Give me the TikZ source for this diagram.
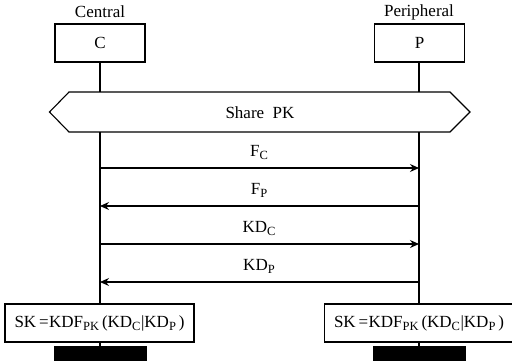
\documentclass[tikz,border=0pt]{standalone}
\usepackage{fontspec}
\setmainfont{Liberation Serif}
\usetikzlibrary{arrows.meta}
\tikzset{
  lbl/.style={inner sep=0pt, font=\fontsize{17}{20}\selectfont},
  entity/.style={draw, line width=1.3pt, minimum width=90pt, minimum height=38pt, inner sep=0pt, font=\fontsize{17}{20}\selectfont},
  stateb/.style={draw, line width=1.3pt, minimum width=189pt, minimum height=38pt, inner sep=0pt, font=\fontsize{17}{20}\selectfont},
  life/.style={line width=1.6pt},
  msg/.style={line width=1.1pt, -{Stealth[length=9pt,width=8pt,inset=3pt]}},
  endbar/.style={fill=black, draw=none, minimum width=93pt, minimum height=16pt, inner sep=0pt},
}
\newcommand{\lw}[1]{\raisebox{-3pt}{\fontsize{12.5}{14}\selectfont #1}}
\begin{document}
\begin{tikzpicture}[x=1pt,y=-1pt]
\useasboundingbox (0,0) rectangle (512,360);
\clip (0,0) rectangle (512,360);
% entities
\node[lbl] (cl) at (100,12) {Central};
\node[lbl] (pl) at (419,12) {Peripheral};
\node[entity] (C) at (100,43) {C};
\node[entity] (P) at (419.5,43) {P};
% share PK box
\draw[line width=1.1pt] (49.5,112) -- (69,92) -- (450,92) -- (470,112) -- (450,132) -- (69,132) -- cycle;
\node[lbl] (share) at (260,113) {Share\ \ PK};
\coordinate (ct) at (100,92);
\coordinate (cb) at (100,132);
\coordinate (pt) at (419,92);
\coordinate (pb) at (419,132);
% bottom boxes
\node[stateb] (SKC) at (99.5,323) {SK\,=\hspace{0.5pt}KDF\lw{PK}\,(KD\lw{C}\hspace{0.5pt}|KD\lw{P}\,)};
\node[stateb] (SKP) at (419,323) {SK\,=\hspace{0.5pt}KDF\lw{PK}\,(KD\lw{C}\hspace{0.5pt}|KD\lw{P}\,)};
\node[endbar] (EC) at (100.5,354) {};
\node[endbar] (EP) at (419.5,354) {};
% lifelines
\draw[life] (C.south) -- (ct);
\draw[life] (P.south -| pt) -- (pt);
\draw[life] (cb) -- (SKC.north -| cb);
\draw[life] (pb) -- (SKP.north -| pb);
\draw[life] (SKC.south -| cb) -- (EC.north -| cb);
\draw[life] (SKP.south -| pb) -- (EP.north -| pb);
% messages
\coordinate (c1) at (100,168); \coordinate (p1) at (419,168);
\coordinate (c2) at (100,206); \coordinate (p2) at (419,206);
\coordinate (c3) at (100,244); \coordinate (p3) at (419,244);
\coordinate (c4) at (100,282); \coordinate (p4) at (419,282);
\draw[msg] (c1) -- (p1);
\draw[msg] (p2) -- (c2);
\draw[msg] (c3) -- (p3);
\draw[msg] (p4) -- (c4);
\node[lbl] (m1) at (259,152) {F\lw{C}};
\node[lbl] (m2) at (259,190) {F\lw{P}};
\node[lbl] (m3) at (259,228) {KD\lw{C}};
\node[lbl] (m4) at (259,266) {KD\lw{P}};
\end{tikzpicture}
\end{document}
